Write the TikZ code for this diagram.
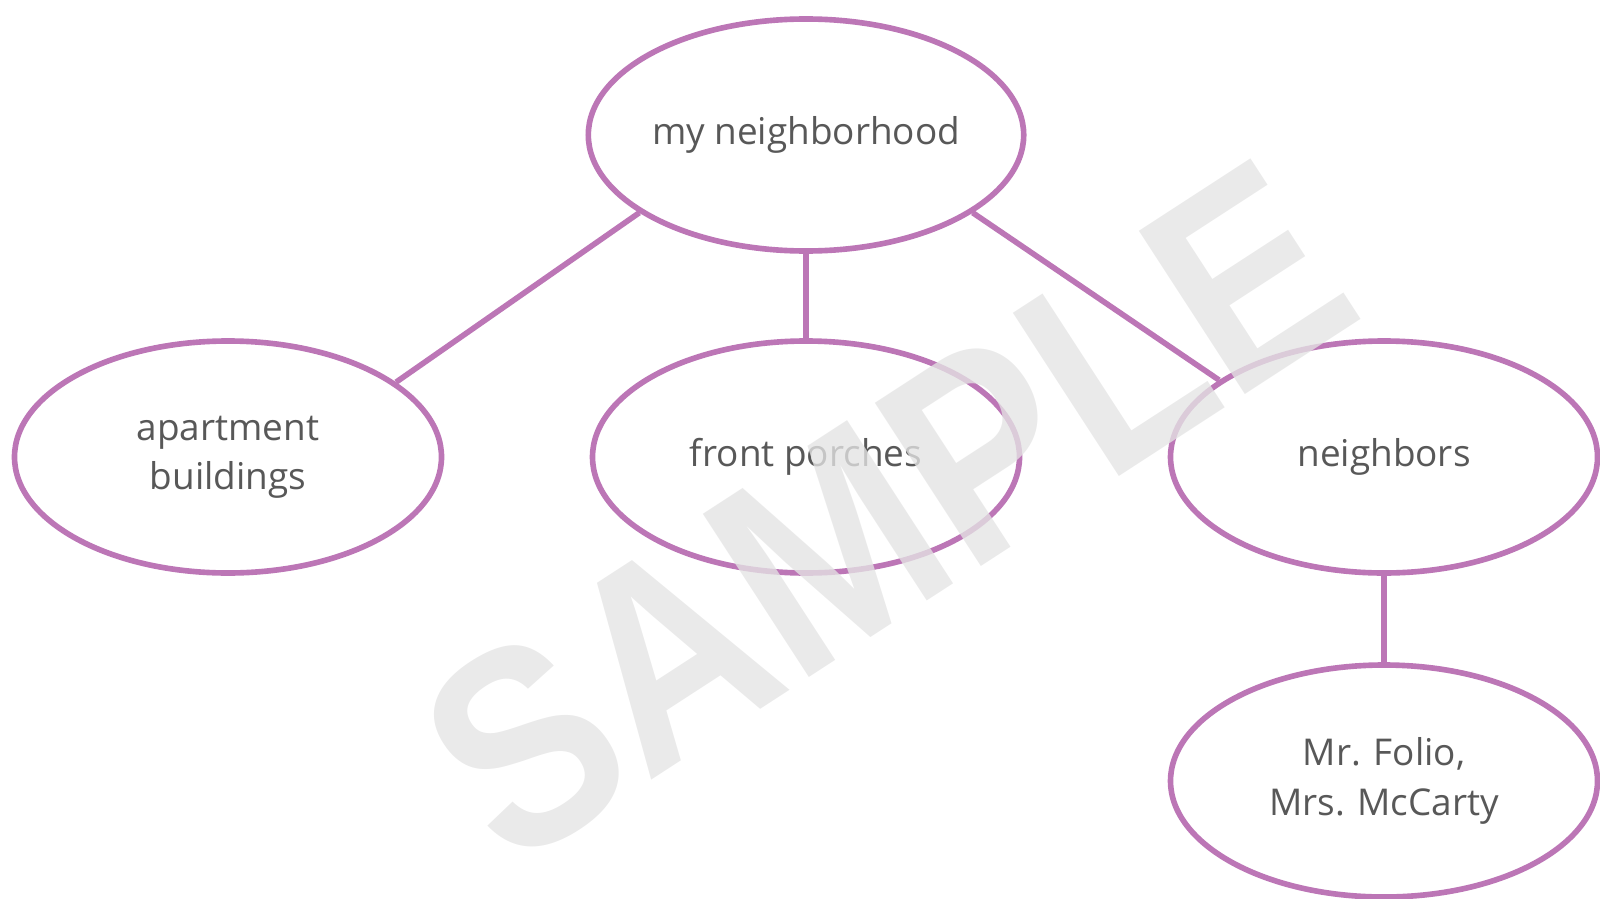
\documentclass[tikz,border=0pt]{standalone}
\usepackage{fontspec}
\setmainfont{Open Sans}
\newfontfamily\stampfont{Liberation Sans}
\usetikzlibrary{shapes.geometric}

\definecolor{bubbleline}{RGB}{188,118,182}
\definecolor{bubbletext}{RGB}{88,88,88}
\definecolor{stampgray}{RGB}{228,228,228}

\tikzset{
  bubble/.style={ellipse,draw=bubbleline,line width=1.6pt,fill=white,
    minimum width=4.27cm,minimum height=2.32cm,inner sep=0pt,align=center,
    text=bubbletext,font=\fontsize{10.5}{14}\selectfont},
  link/.style={draw=bubbleline,line width=1.6pt},
  stamp/.style={rotate=33,yscale=1.15,text=stampgray,text opacity=0.78,inner sep=0pt,
    font=\stampfont\bfseries\fontsize{70}{70}\selectfont}
}

\begin{document}
\begin{tikzpicture}[node distance=5.78cm]
\useasboundingbox (0,0) rectangle (16,-8.98);

\node[bubble] (porch) at (8.06,-4.57) {front porches};
\node[bubble] (apt) [left of=porch] {apartment\\buildings};
\node[bubble] (neigh) [right of=porch] {neighbors};
\node[bubble] (hood) [above of=porch,node distance=3.22cm] {my neighborhood};
\node[bubble] (folio) [below of=neigh,node distance=3.24cm] {Mr. Folio,\\Mrs. McCarty};

\path[link] (hood.205) edge (apt.24)
            (hood) edge (porch)
            (hood.335) edge (neigh.155)
            (neigh) edge (folio);

% watermark over the map
\node[stamp] (sample) at (8.86,-5.12) {SAMPLE};

\end{tikzpicture}
\end{document}
